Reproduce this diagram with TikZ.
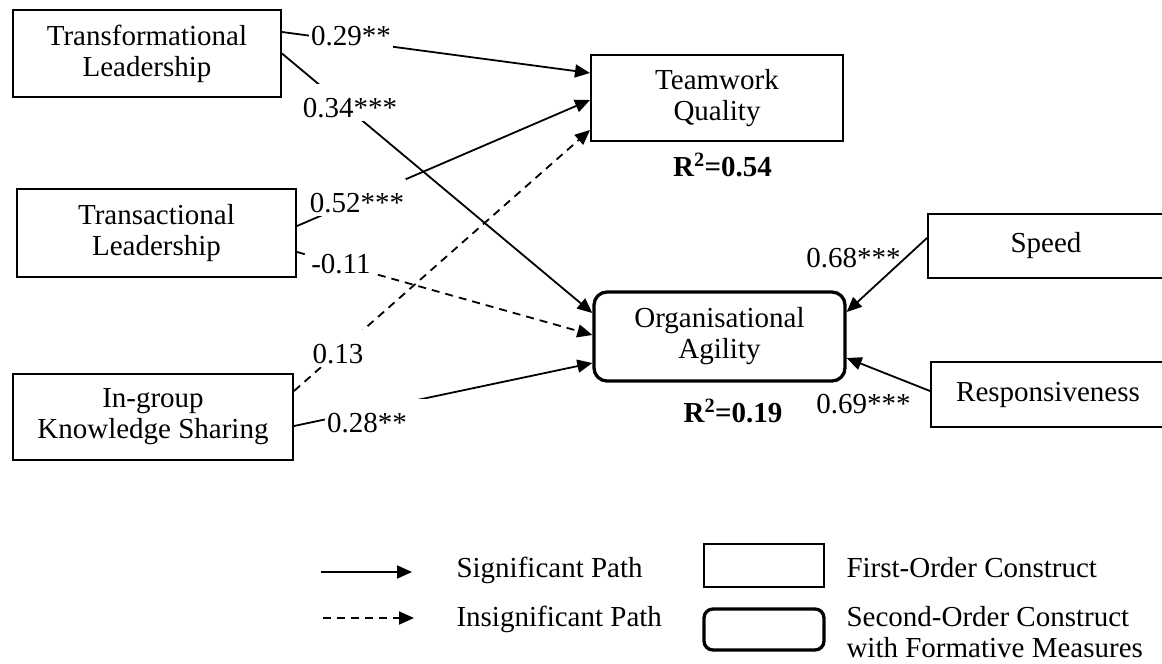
\documentclass[tikz,border=0pt]{standalone}
\usepackage{fontspec}
\setmainfont{Liberation Serif}
\usetikzlibrary{arrows.meta}
\tikzset{
  fobox/.style={draw, line width=2pt, align=center, inner sep=0pt},
  sobox/.style={draw, line width=3.3pt, rounded corners=13pt, align=center, inner sep=0pt},
  lbl/.style={inner xsep=2pt, inner ysep=0pt, text height=33pt, text depth=4pt, anchor=base},
  lblw/.style={lbl, fill=white},
  rsq/.style={font=\fontsize{29}{31}\selectfont\bfseries, anchor=base},
  sig/.style={-{Triangle[length=15pt,width=13pt]}, line width=1.8pt},
  insig/.style={sig, dash pattern=on 8pt off 6pt},
  legtxt/.style={anchor=base west, align=left},
}
\begin{document}
\begin{tikzpicture}[x=1pt, y=-1pt, font=\fontsize{29}{31}\selectfont]
\useasboundingbox (0,0) rectangle (1162,664);

% first-order constructs
\node[fobox, minimum width=268pt, minimum height=87pt] (tfl) at (147,53.5) {Transformational\\Leadership};
\node[fobox, minimum width=279pt, minimum height=88pt] (trl) at (156.5,233) {Transactional\\Leadership};
\node[fobox, minimum width=280pt, minimum height=86pt] (igk) at (153,417) {In-group\\Knowledge Sharing};
\node[fobox, minimum width=252pt, minimum height=86pt] (twq) at (717,98) {Teamwork\\Quality};
\node[fobox, minimum width=236pt, minimum height=64pt] (spd) at (1046,246) {Speed};
\node[fobox, minimum width=234pt, minimum height=65pt] (rsp) at (1048,394.5) {Responsiveness};
% second-order construct
\node[sobox, minimum width=251pt, minimum height=89pt] (org) at (719.5,336.5) {Organisational\\Agility};

% paths
\draw[sig] ([yshift=21.5pt]tfl.east) -- ([yshift=25pt]twq.west);
\draw[sig] (tfl.east) -- ([yshift=23.5pt]org.west);
\draw[sig] ([yshift=7pt]trl.east) -- ([yshift=-2pt]twq.west);
\draw[insig] ([yshift=-19pt]trl.east) -- ([yshift=1.5pt]org.west);
\draw[insig] ([yshift=26pt]igk.east) -- ([yshift=-32pt]twq.west);
\draw[sig] ([yshift=-9pt]igk.east) -- ([yshift=-26.5pt]org.west);
\draw[sig] ([yshift=8pt]spd.west) -- ([yshift=24.5pt]org.east);
\draw[sig] ([yshift=3.5pt]rsp.west) -- ([yshift=-21.5pt]org.east);

% path coefficients
\foreach \n/\x/\y/\t in {l29/351/45/0.29**, l34/350/117/0.34***, l52/357/212/0.52***,
                         l11/341/273/-0.11, l13/338/363/0.13}
  \node[lblw] (\n) at (\x,\y) {\t};
\node[lblw, text width=104pt, align=left, anchor=base west] (l28) at (325,432) {0.28**};
\node[lbl] (l68) at (853.5,267) {0.68***};
\node[lbl] (l69) at (863.5,413) {0.69***};

\node[rsq] (r54) at (722.5,176) {R\textsuperscript{2}=0.54};
\node[rsq] (r19) at (733,422) {R\textsuperscript{2}=0.19};

% legend
\coordinate (sigA) at (321,572);
\coordinate (sigB) at (412,572);
\coordinate (insA) at (323,618);
\coordinate (insB) at (414,618);
\draw[sig] (sigA) -- (sigB);
\draw[insig] (insA) -- (insB);
\node[legtxt] (sigtxt) at (453,577) {Significant Path};
\node[legtxt] (instxt) at (453,626) {Insignificant Path};

\node[fobox, minimum width=120pt, minimum height=43pt] (fokey) at (764,565.5) {};
\node[sobox, rounded corners=9pt, minimum width=120pt, minimum height=41pt] (sokey) at (764,629.5) {};
\node[legtxt] (fotxt) at (843,577) {First-Order Construct};
\node[legtxt] (sotxt) at (843,657) {Second-Order Construct\\with Formative Measures};

\end{tikzpicture}
\end{document}
